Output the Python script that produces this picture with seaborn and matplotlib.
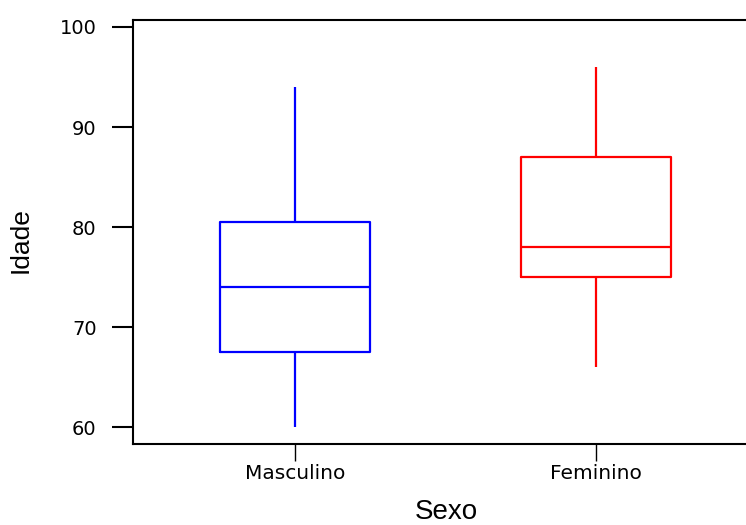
import pandas as pd
import numpy as np
import matplotlib
matplotlib.use("Agg")
import matplotlib.pyplot as plt
import seaborn as sns

# five-number summaries
sexo = ["Masculino", "Feminino"]
masculino = [60, 67.5, 74, 80.5, 94]
feminino = [66, 75, 78, 87, 96]
cores = {"Masculino": "#0000ff", "Feminino": "#ff0000"}

df = pd.DataFrame({
    "Sexo": ["Masculino"] * len(masculino) + ["Feminino"] * len(feminino),
    "Idade": masculino + feminino,
})

sns.set_style("white")
plt.rcParams["font.family"] = ["Liberation Sans", "DejaVu Sans"]
plt.rcParams["text.color"] = "black"
plt.rcParams["axes.labelcolor"] = "black"
plt.rcParams["xtick.color"] = "black"
plt.rcParams["ytick.color"] = "black"

fig = plt.figure(figsize=(7.46, 5.25), dpi=100)
ax = fig.add_axes([0.178, 0.154, 0.822, 0.808])

sns.boxplot(data=df, x="Sexo", y="Idade", hue="Sexo", order=sexo,
            palette=cores, fill=False, showcaps=False, whis=np.inf,
            width=0.5, linewidth=1.6, legend=False, ax=ax)

ax.set_xlim(-0.54, 1.5)
ax.set_ylim(58.3, 100.7)
ax.set_yticks([60, 70, 80, 90, 100])

for s in ["left", "top", "bottom"]:
    ax.spines[s].set_linewidth(1.5)
    ax.spines[s].set_color("black")
ax.spines["right"].set_visible(False)

ax.tick_params(axis="y", direction="out", length=15, width=1.5, labelsize=14, pad=11, left=True)
ax.tick_params(axis="x", direction="out", length=12, width=1, labelsize=14.5, pad=2, bottom=True)
for lbl in ax.get_xticklabels() + ax.get_yticklabels():
    lbl.set_family("DejaVu Sans")

ax.set_xlabel("Sexo", fontsize=20)
ax.set_ylabel("Idade", fontsize=19)
ax.xaxis.set_label_coords(0.511, -0.129)
ax.yaxis.set_label_coords(-0.163, 0.481)

fig.savefig("out.png", dpi=100)
